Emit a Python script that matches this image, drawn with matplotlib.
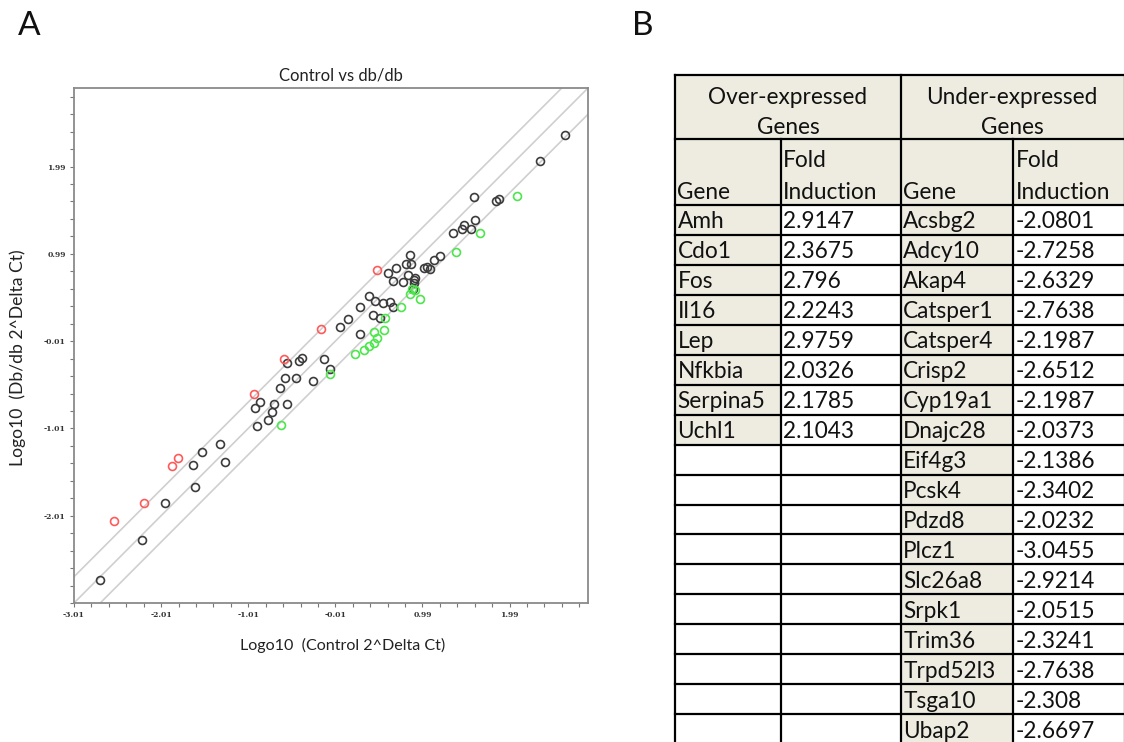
import matplotlib
matplotlib.use("Agg")
import matplotlib.pyplot as plt
from matplotlib.patches import Rectangle
from matplotlib.lines import Line2D
import numpy as np

plt.rcParams['font.family'] = ['Lato', 'DejaVu Sans']

# ---------------- data ----------------
red_x = [0.463, -0.176, -0.594, -0.942, -1.814, -1.880, -2.203, -2.547]
red_y = [0.808, 0.128, -0.216, -0.611, -1.350, -1.437, -1.860, -2.069]

green_x = [2.080, 1.654, 1.372, 0.901, 0.868, 0.843, 0.958, 0.741, 0.557, 0.549,
           0.438, 0.463, 0.438, 0.381, 0.323, 0.221, -0.074, -0.631]
green_y = [1.650, 1.231, 1.010, 0.571, 0.585, 0.532, 0.472, 0.377, 0.251, 0.116,
           0.089, 0.030, -0.034, -0.061, -0.113, -0.152, -0.382, -0.974]

black_x = [2.621, 2.334, 1.581, 1.838, 1.871, 1.589, 1.470, 1.441, 1.552, 1.339,
           1.191, 1.118, 0.848, 0.802, 0.856, 0.688, 0.594, 1.007, 1.040, 1.077,
           0.819, 0.651, 0.762, 0.888, 0.909, 0.876, 0.894, 0.381, 0.442, 0.536,
           0.622, 0.647, 0.278, 0.426, 0.503, 0.131, 0.045, 0.274, -0.139, -0.389,
           -0.426, -0.561, -0.074, -0.586, -0.467, -0.262, -0.651, -0.872, -0.934,
           -0.709, -0.561, -0.737, -0.782, -0.909, -1.339, -1.536, -1.646, -1.278,
           -1.622, -1.962, -2.232, -2.715]
black_y = [2.346, 2.057, 1.646, 1.595, 1.622, 1.377, 1.318, 1.279, 1.279, 1.231,
           0.962, 0.915, 0.982, 0.875, 0.875, 0.828, 0.769, 0.828, 0.836, 0.816,
           0.745, 0.674, 0.662, 0.694, 0.713, 0.587, 0.657, 0.512, 0.445, 0.425,
           0.433, 0.377, 0.385, 0.290, 0.251, 0.243, 0.156, 0.069, -0.216, -0.208,
           -0.239, -0.259, -0.334, -0.437, -0.437, -0.468, -0.544, -0.706, -0.773,
           -0.725, -0.725, -0.824, -0.919, -0.982, -1.188, -1.275, -1.425, -1.397,
           -1.678, -1.860, -2.291, -2.749]

fold_offsets = [0.301, 0.0, -0.301]
axis_min, axis_max = -3.01, 2.89
major_ticks_x = [-3.01, -2.01, -1.01, -0.01, 0.99, 1.99]
major_ticks_y = [-2.01, -1.01, -0.01, 0.99, 1.99]

over_genes = ["Amh", "Cdo1", "Fos", "Il16", "Lep", "Nfkbia", "Serpina5", "Uchl1"]
over_fold = ["2.9147", "2.3675", "2.796", "2.2243", "2.9759", "2.0326", "2.1785", "2.1043"]
under_genes = ["Acsbg2", "Adcy10", "Akap4", "Catsper1", "Catsper4", "Crisp2", "Cyp19a1",
               "Dnajc28", "Eif4g3", "Pcsk4", "Pdzd8", "Plcz1", "Slc26a8", "Srpk1",
               "Trim36", "Trpd52l3", "Tsga10", "Ubap2"]
under_fold = ["-2.0801", "-2.7258", "-2.6329", "-2.7638", "-2.1987", "-2.6512", "-2.1987",
              "-2.0373", "-2.1386", "-2.3402", "-2.0232", "-3.0455", "-2.9214", "-2.0515",
              "-2.3241", "-2.7638", "-2.308", "-2.6697"]

# ---------------- figure ----------------
W, H = 1124, 742
fig = plt.figure(figsize=(W / 100, H / 100), dpi=100)

def fx(px):
    return px / W

def fy(py):
    return 1 - py / H

ax = fig.add_axes([fx(74), fy(603), fx(588) - fx(74), fy(88) - fy(603)])
ax.set_xlim(axis_min, axis_max)
ax.set_ylim(axis_min, axis_max)

line_x = np.array([axis_min, axis_max])
for off in fold_offsets:
    ax.plot(line_x, line_x + off, color='#cfcfcf', lw=1.2, zorder=1)

ms = 5.7
mew = 1.2
ax.plot(black_x, black_y, 'o', mfc='none', mec='#3c3c3c', ms=ms, mew=mew, zorder=3, ls='none')
ax.plot(red_x, red_y, 'o', mfc='none', mec='#ff5a5a', ms=ms, mew=mew, zorder=3, ls='none')
ax.plot(green_x, green_y, 'o', mfc='none', mec='#4de64d', ms=ms, mew=mew, zorder=3, ls='none')

for sp in ax.spines.values():
    sp.set_color('#8a8a8a')
    sp.set_linewidth(1.3)

ax.set_xticks(major_ticks_x)
ax.set_yticks(major_ticks_y)
ax.set_xticklabels([f"{t:.2f}" for t in major_ticks_x])
ax.set_yticklabels([f"{t:.2f}" for t in major_ticks_y])
minor = np.arange(axis_min, axis_max, 0.2)
ax.set_xticks(minor, minor=True)
ax.set_yticks(minor, minor=True)
ax.tick_params(which='both', direction='out', length=3, width=0.8, color='#777777')
ax.tick_params(which='major', labelsize=5.5, labelcolor='#333333', pad=3)
for lab in ax.get_xticklabels() + ax.get_yticklabels():
    lab.set_family('DejaVu Serif')
    lab.set_fontweight('bold')

fig.text(fx(341), fy(80.5), "Control vs db/db", fontsize=12, ha='center', va='baseline', color='#222222')
fig.text(fx(343), fy(645), "Logo10  (Control 2^Delta Ct)", fontsize=11.6, ha='center', va='center', color='#222222')
fig.text(fx(18), fy(358), "Logo10  (Db/db 2^Delta Ct)", fontsize=12.6, ha='center', va='center', rotation=90, color='#222222')

fig.text(fx(29), fy(26), "A", fontsize=24, ha='center', va='center', color='#111111')
fig.text(fx(643), fy(26), "B", fontsize=24, ha='center', va='center', color='#111111')

# ---------------- table ----------------
beige = '#eeece1'
col_edges = [675, 780.7, 900.7, 1013.3, 1125]
top = 75
h1_bot = 139.3
h2_bot = 205
row_h = 29.95
n_rows = len(under_genes)
fs_tab = 16.3

def rect(x0, y0, x1, y1, color):
    fig.add_artist(Rectangle((fx(x0), fy(y1)), fx(x1) - fx(x0), fy(y0) - fy(y1),
                             transform=fig.transFigure, facecolor=color, edgecolor='none', zorder=1))

def hline(x0, x1, y):
    fig.add_artist(Line2D([fx(x0), fx(x1)], [fy(y), fy(y)], transform=fig.transFigure,
                          color='black', lw=1.6, zorder=3, solid_capstyle='projecting'))

def vline(x, y0, y1):
    fig.add_artist(Line2D([fx(x), fx(x)], [fy(y0), fy(y1)], transform=fig.transFigure,
                          color='black', lw=1.6, zorder=3, solid_capstyle='projecting'))

# header fills
rect(col_edges[0], top, col_edges[-1], h2_bot, beige)
# data fills
for i in range(n_rows):
    y0 = h2_bot + i * row_h
    y1 = y0 + row_h
    if i < len(over_genes):
        rect(col_edges[0], y0, col_edges[1], y1, beige)
    rect(col_edges[2], y0, col_edges[3], y1, beige)

# lines
hline(col_edges[0], col_edges[-1], top)
hline(col_edges[0], col_edges[-1], h1_bot)
hline(col_edges[0], col_edges[-1], h2_bot)
bottom = h2_bot + n_rows * row_h
for i in range(1, n_rows + 1):
    hline(col_edges[0], col_edges[-1], h2_bot + i * row_h)
vline(col_edges[0], top, bottom)
vline(col_edges[2], top, bottom)
vline(col_edges[1], h1_bot, bottom)
vline(col_edges[3], h1_bot, bottom)
vline(col_edges[4], top, bottom)

tc = '#111111'
# header row 1
fig.text(fx(788), fy(104), "Over-expressed", fontsize=fs_tab, ha='center', va='baseline', color=tc)
fig.text(fx(788), fy(134), "Genes", fontsize=fs_tab, ha='center', va='baseline', color=tc)
fig.text(fx(1012), fy(104), "Under-expressed", fontsize=fs_tab, ha='center', va='baseline', color=tc)
fig.text(fx(1012), fy(134), "Genes", fontsize=fs_tab, ha='center', va='baseline', color=tc)
# header row 2
pad = 2.5
for c in (0, 2):
    fig.text(fx(col_edges[c] + pad), fy(199), "Gene", fontsize=fs_tab, ha='left', va='baseline', color=tc)
    fig.text(fx(col_edges[c + 1] + pad), fy(167), "Fold", fontsize=fs_tab, ha='left', va='baseline', color=tc)
    fig.text(fx(col_edges[c + 1] + pad), fy(199), "Induction", fontsize=fs_tab, ha='left', va='baseline', color=tc)

for i in range(n_rows):
    yb = h2_bot + i * row_h + 23.5
    if i < len(over_genes):
        fig.text(fx(col_edges[0] + pad), fy(yb), over_genes[i], fontsize=fs_tab, ha='left', va='baseline', color=tc)
        fig.text(fx(col_edges[1] + pad), fy(yb), over_fold[i], fontsize=fs_tab, ha='left', va='baseline', color=tc)
    fig.text(fx(col_edges[2] + pad), fy(yb), under_genes[i], fontsize=fs_tab, ha='left', va='baseline', color=tc)
    fig.text(fx(col_edges[3] + pad), fy(yb), under_fold[i], fontsize=fs_tab, ha='left', va='baseline', color=tc)

fig.savefig("out.png", dpi=100)
